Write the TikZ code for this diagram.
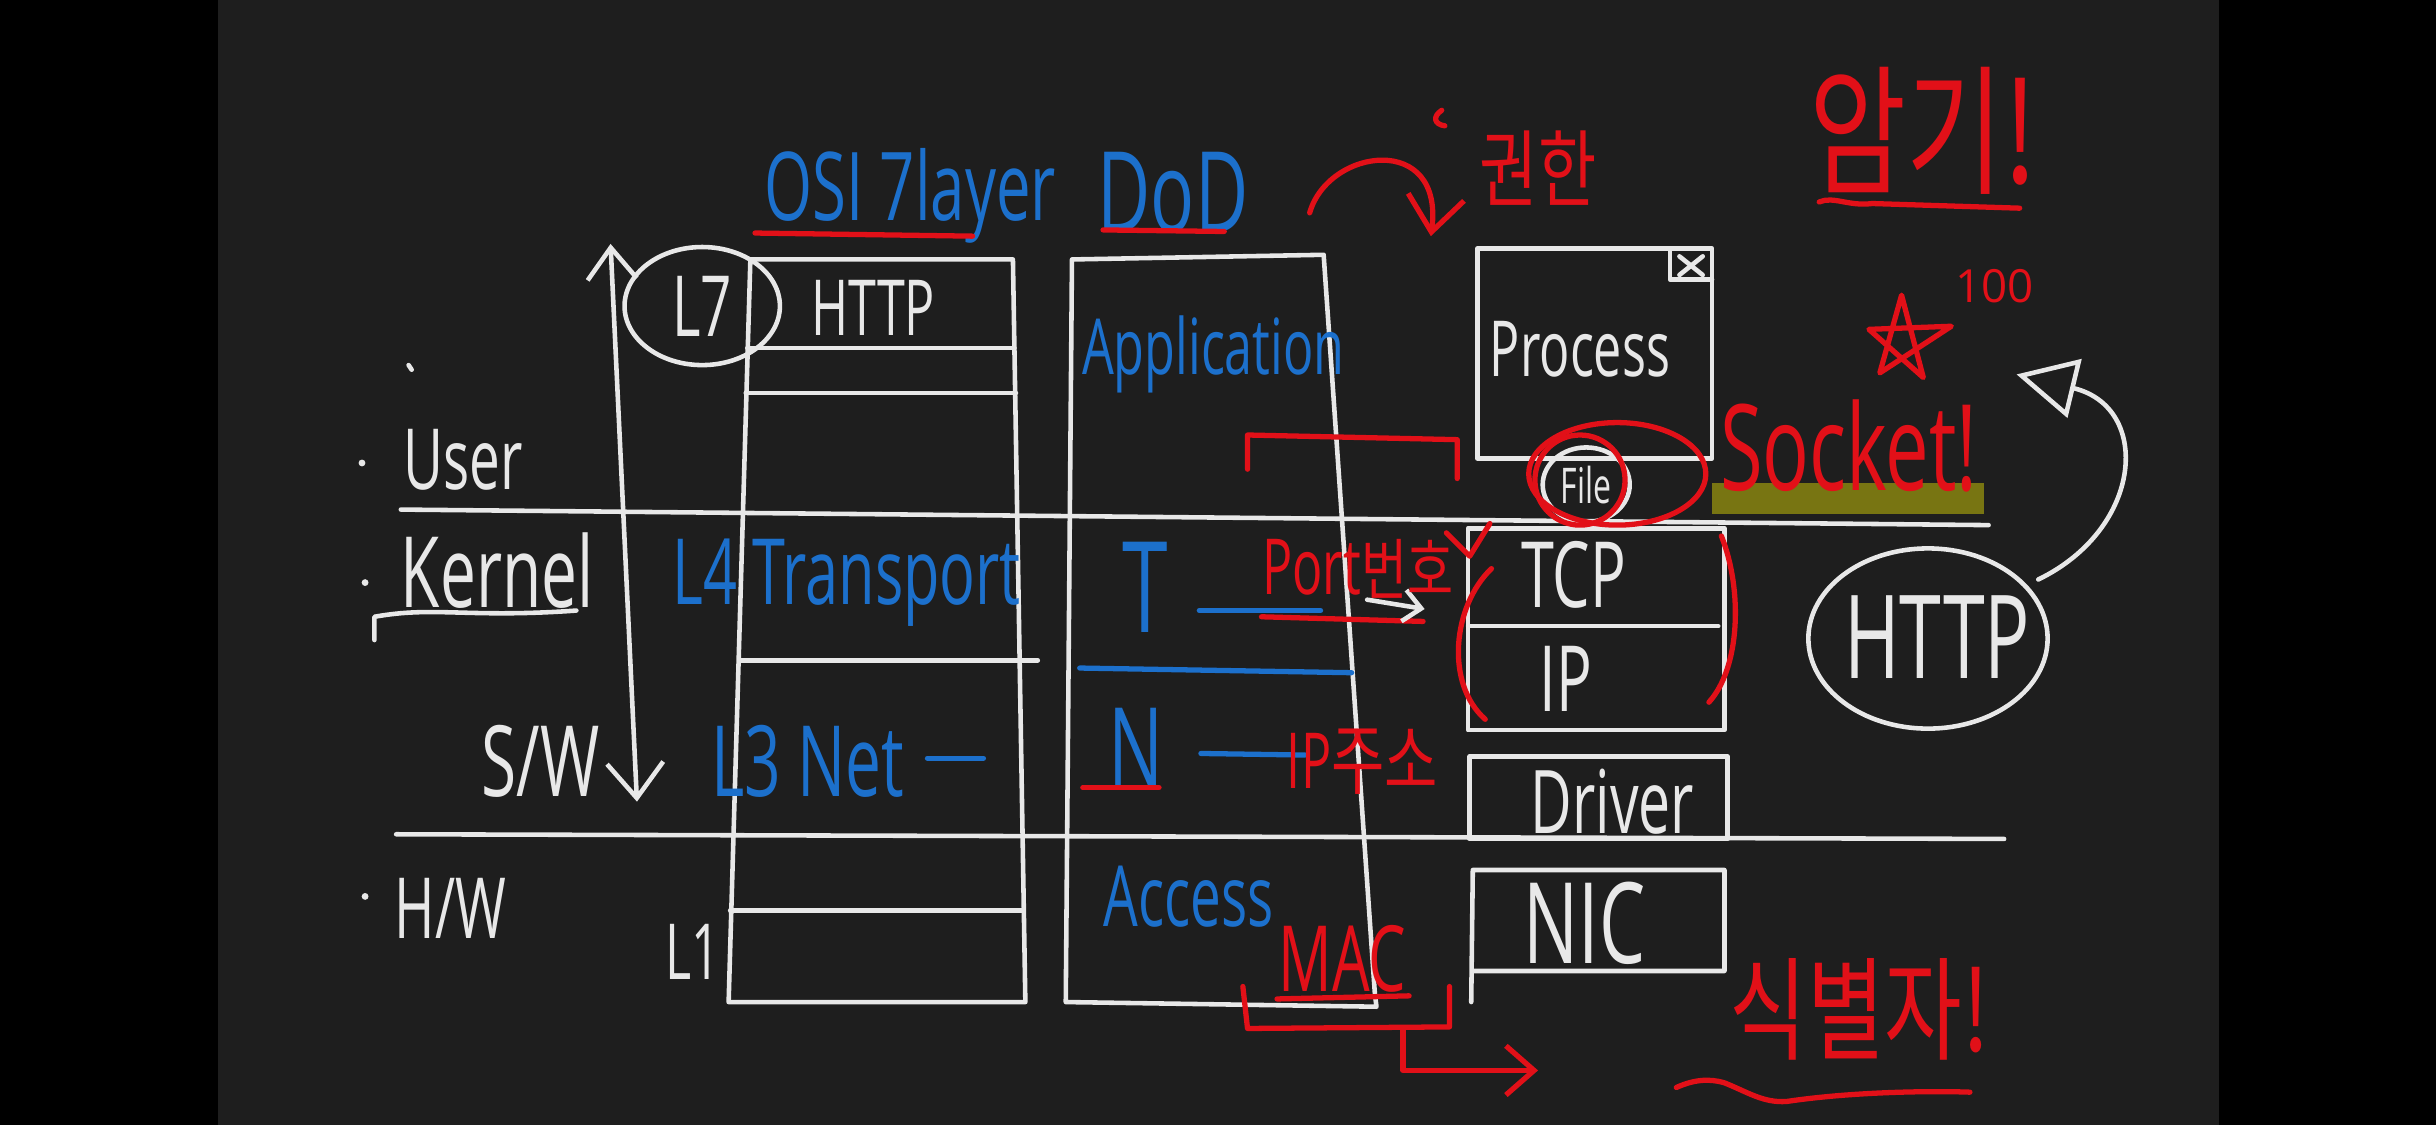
\documentclass[tikz,border=0pt]{standalone}
\usepackage{fontspec}
\setmainfont[FakeStretch=0.65]{Open Sans}
\newfontfamily\kr[FakeStretch=0.75]{Noto Sans CJK KR}
\newfontfamily\widefont{Open Sans}
\usetikzlibrary{arrows.meta, calc, positioning}
\definecolor{board}{RGB}{30,30,30}
\definecolor{chalk}{RGB}{232,232,232}
\definecolor{pen}{RGB}{28,112,204}
\definecolor{ink}{RGB}{226,16,24}
\definecolor{marker}{RGB}{120,117,18}
\newcommand{\handsize}[1]{\fontsize{#1}{#1}\selectfont}
\tikzset{
  wline/.style={chalk, line width=1.3pt, line cap=round, line join=round},
  bline/.style={pen, line width=1.5pt, line cap=round},
  rline/.style={ink, line width=1.5pt, line cap=round, line join=round},
  wtext/.style={text=chalk, inner sep=0pt},
  btext/.style={text=pen, inner sep=0pt},
  rtext/.style={text=ink, inner sep=0pt},
}
\begin{document}
\begin{tikzpicture}[x=0.015536cm, y=-0.015536cm]
        %sfondo
        \fill[black] (0,0) rectangle (1568,724);
        \fill[board] (140,0) rectangle (1428,724);
        \useasboundingbox (0,0) rectangle (1568,724);
        %user / kernel / hw lines
        \draw[wline] (258,328) -- (1280,338);
        \draw[wline] (255,537) -- (1290,540);
        %left labels
        \fill[chalk] (233,298) circle[radius=2.2];
        \fill[chalk] (235,375) circle[radius=2.2];
        \fill[chalk] (235,577) circle[radius=2.2];
        \draw[wline] (263,235) -- (265,238);
        \node[wtext, font=\handsize{24}] (user) at (298,296) {User};
        \node[wtext, font=\handsize{28}] (kernel) at (320,367) {Kernel};
        \draw[wline] (241,412) -- (241,397) .. controls (280,390) and (300,398) .. (371,393);
        \node[wtext, font=\handsize{28}] (sw) at (348,490) {S/W};
        \node[wtext, font=\handsize{24}] (hw) at (290,585) {H/W};
        %s/w arrow
        \coordinate (swtop) at (393,157);
        \coordinate (swbot) at (410,516);
        \draw[wline, {Straight Barb[length=9pt,width=14pt]}-{Straight Barb[length=10pt,width=16pt]}] (swtop) -- (swbot);
        %osi column
        \node[btext, font=\handsize{27}] (osi) at (586,126) {OSI 7layer};
        \draw[rline] (486,150) -- (626,152);
        \draw[wline] (483,167) -- (652,167) -- (660,645) -- (469,645) -- cycle;
        \draw[wline] (481,224) -- (653,224);
        \draw[wline] (480,253) -- (654,253);
        \draw[wline] (476,425) -- (668,425);
        \draw[wline] (470,586) -- (658,586);
        \node[wtext, font=\handsize{24}] (l7) at (452,197) {L7};
        \draw[wline] (l7.center) ellipse[x radius=50, y radius=38];
        \node[wtext, font=\handsize{22}] (http) at (562,198) {HTTP};
        \node[btext, font=\handsize{26}] (transport) at (545,375) {L4 Transport};
        \node[btext, font=\handsize{28}] (net) at (520,490) {L3 Net};
        \draw[bline] (597,488) -- (633,488);
        \node[wtext, font=\handsize{22}] (l1) at (446,613) {L1};
        %dod column
        \node[btext, font=\handsize{32}] (dod) at (755,124) {DoD};
        \draw[rline] (710,148) -- (788,149);
        \draw[wline] (690,167) -- (852,164) -- (885,640) -- (886,648) -- (686,645) -- cycle;
        \node[btext, font=\handsize{22}] (app) at (781,228) {Application};
        \draw[rline] (803,302) -- (803,280) -- (938,283) -- (938,308);
        \node[btext, font=\handsize{36}] (tl) at (737,378) {T};
        \draw[rline] (812,397) -- (916,400);
        \draw[bline] (772,393) -- (850,393);
        \draw[bline] (695,430) -- (870,433);
        \node[btext, font=\handsize{32}] (nl) at (731,482) {N};
        \draw[rline] (697,507) -- (746,507);
        \draw[bline] (773,485) -- (840,486);
        \node[btext, font=\handsize{24}] (access) at (765,577) {Access};
        %stack
        \draw[wline] (951,160) -- (1102,160) -- (1102,295) -- (951,295) -- cycle;
        \draw[wline] (1075,160) -- (1075,180) -- (1102,180);
        \draw[wline] (1081,165) -- (1096,177);
        \draw[wline] (1081,177) -- (1096,165);
        \node[wtext, font=\handsize{22}] (process) at (1017,225) {Process};
        \node[wtext, font=\handsize{14}] (file) at (1021,312) {File};
        \draw[wline] (file.center) ellipse[x radius=28, y radius=24];
        \draw[wline] (945,340) rectangle (1110,470);
        \draw[wline] (945,403) -- (1106,403);
        \node[wtext, font=\handsize{26}] (tcp) at (1013,370) {TCP};
        \node[wtext, font=\handsize{26}] (ip) at (1008,437) {IP};
        \draw[wline] (946,487) rectangle (1112,540);
        \node[wtext, font=\handsize{25}] (driver) at (1038,516) {Driver};
        \draw[wline] (947,645) -- (948,560) -- (1110,560) -- (1110,625) -- (948,625);
        \node[wtext, font=\handsize{32}] (nic) at (1020,594) {NIC};
        %port
        \draw[wline, -{Straight Barb[length=5pt,width=9pt]}] (880,386) -- (917,392);
        \node[rtext, font=\handsize{22}] (port) at (874,366) {Port{\kr\handsize{19}번호}};
        \draw[rline] (931,343) -- (946,358) -- (959,337);
        \draw[rline] (960,366) .. controls (935,390) and (930,440) .. (956,463);
        \draw[rline] (1108,345) .. controls (1122,380) and (1120,430) .. (1100,452);
        \node[rtext, font=\handsize{22}] (ipaddr) at (877,490) {IP{\kr 주소}};
        %mac
        \node[rtext, font=\handsize{26}] (mac) at (864,617) {MAC};
        \draw[rline] (822,643) -- (907,641);
        \draw[rline] (800,635) -- (803,662) -- (933,661) -- (933,635);
        \coordinate (macbend) at (903,662);
        \coordinate (macend) at (990,689);
        \draw[rline, -{Straight Barb[length=8pt,width=14pt]}] (macbend) |- (macend);
        %socket
        \fill[marker] (1102,311) rectangle (1277,331);
        \node[rtext, font=\handsize{34}] (socket) at (1190,287) {Socket!};
        \draw[rline] (1041,305) ellipse[x radius=57, y radius=33];
        \draw[rline] (1017,309) circle[radius=29];
        %kernel mode arrow
        \coordinate (arcstart) at (843,137);
        \coordinate (arcend) at (921,152);
        \draw[rline, -{Straight Barb[length=10pt,width=16pt]}] (arcstart) .. controls (855,95) and (930,85) .. (arcend);
        \draw[rline] (928,71) .. controls (922,75) and (923,80) .. (930,81);
        \node[rtext, font=\kr\handsize{24}] (auth) at (990,108) {권한};
        %memo
        \node[rtext, font=\kr\handsize{40}] (memo) at (1238,84) {암기!};
        \draw[rline] (1171,130) .. controls (1180,126) and (1190,133) .. (1205,131) -- (1300,134);
        \draw[rline] (1210,240) -- (1224,190) -- (1238,243) -- (1203,212) -- (1256,210) -- cycle;
        \node[rtext, font=\widefont\handsize{13}] (hundred) at (1284,184) {100};
        %http bubble
        \node[wtext, font=\handsize{33}] (httpbub) at (1247,410) {HTTP};
        \draw[wline] (1241,411) ellipse[x radius=77, y radius=58];
        \coordinate (bubexit) at (1312,373);
        \coordinate (tri) at (1298,241);
        \draw[wline, -{Triangle[open, length=17pt, width=17pt]}] (bubexit) .. controls (1380,340) and (1385,262) .. (tri);
        %identifier
        \node[rtext, font=\kr\handsize{32}] (ident) at (1197,650) {식별자!};
        \draw[rline] (1079,700) .. controls (1090,695) and (1100,694) .. (1110,697) .. controls (1125,703) and (1135,710) .. (1150,709) .. controls (1190,703) and (1240,702) .. (1268,703);
\end{tikzpicture}
\end{document}
